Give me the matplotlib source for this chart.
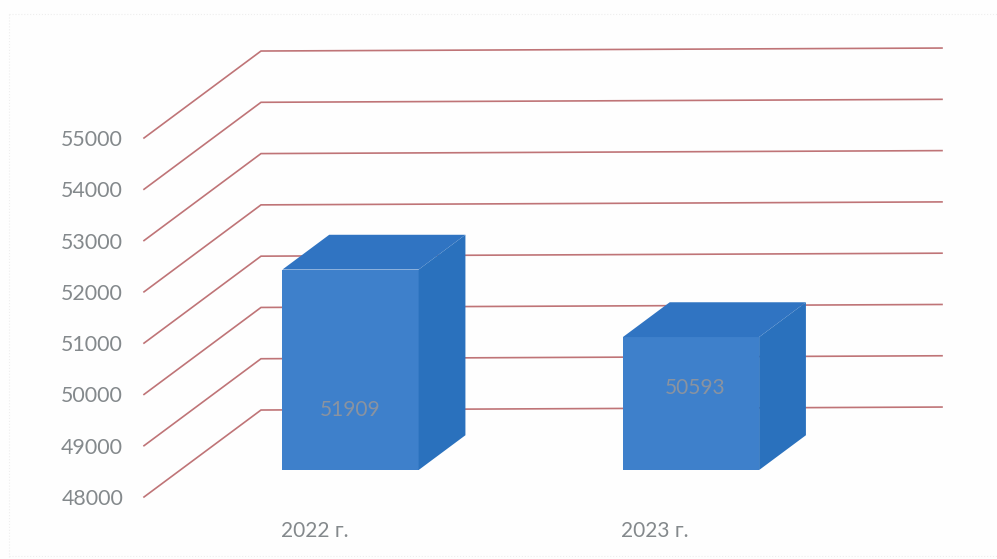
import matplotlib
matplotlib.use("Agg")
import matplotlib.pyplot as plt
from matplotlib.lines import Line2D
from matplotlib.patches import Polygon

plt.rcParams['font.family'] = ['Lato', 'DejaVu Sans']

# data
categories = ['2022 г.', '2023 г.']
values = [51909, 50593]
value_labels = ['51909', '50593']
ticks = [48000, 49000, 50000, 51000, 52000, 53000, 54000, 55000]

# fake 3d: how far the back wall sits from the front plane, in data units
depth_x = 0.3436
depth_y = 1696
tilt = 29  # the scan is slightly rotated
bar_width = 0.4
bar_front = 0.31
bar_back = 0.71
label_x = [0, 0.012]
label_y = [49696, 50125]


def proj(x, v, d):
    return x + depth_x * d, v + depth_y * d


W, H = 997, 559
fig = plt.figure(figsize=(W / 100, H / 100), dpi=100)
fig.patch.set_facecolor('#fefefe')
ax = fig.add_axes([144 / W, 1 - 497 / H, 681 / W, 359 / H])
ax.set_xlim(-0.5, 1.5)
ax.set_ylim(ticks[0], ticks[-1])
ax.patch.set_visible(False)
for s in ax.spines.values():
    s.set_visible(False)

# gridlines: side wall, then back wall
for t in ticks:
    x0, y0 = proj(-0.5, t, 0)
    x1, y1 = proj(-0.5, t, 1)
    x2, y2 = proj(1.5, t, 1)
    ax.plot([x0, x1, x2], [y0, y1, y2 + 2 * tilt], color='#bf7477', lw=1.2,
            clip_on=False, zorder=1, solid_joinstyle='miter')

# bars
for i, v in enumerate(values):
    left = i - bar_width / 2
    right = i + bar_width / 2
    base = ticks[0]
    front = [proj(left, base, bar_front), proj(right, base, bar_front),
             proj(right, v, bar_front), proj(left, v, bar_front)]
    top = [proj(left, v, bar_front), proj(right, v, bar_front),
           proj(right, v, bar_back), proj(left, v, bar_back)]
    side = [proj(right, base, bar_front), proj(right, base, bar_back),
            proj(right, v, bar_back), proj(right, v, bar_front)]
    ax.add_patch(Polygon(front, color='#3e80cb', lw=0, clip_on=False, zorder=3))
    ax.add_patch(Polygon(top, color='#3074c2', lw=0, clip_on=False, zorder=3))
    ax.add_patch(Polygon(side, color='#2a71bd', lw=0, clip_on=False, zorder=3))
    lx, _ = proj(i + label_x[i], v, bar_front)
    ax.text(lx, label_y[i], value_labels[i], color='#8a93a0', fontsize=15,
            ha='center', va='center', zorder=4)

ax.set_yticks(ticks)
ax.set_yticklabels([str(t) for t in ticks])
ax.set_xticks([0, 1])
ax.set_xticklabels(categories)
ax.tick_params(axis='y', length=0, pad=15, labelsize=15.4, labelcolor='#84898c')
ax.tick_params(axis='x', length=0, pad=17, labelsize=15, labelcolor='#84898c')

# faint marks left by the scan along the page edges
for xs, ys in [([9, 9], [14, 559]), ([9, 997], [14, 14]), ([9, 997], [556, 556])]:
    fig.add_artist(Line2D([x / W for x in xs], [1 - y / H for y in ys],
                          color='#eeeeee', lw=0.8, ls=':',
                          transform=fig.transFigure))

fig.savefig('out.png', dpi=100, facecolor=fig.get_facecolor())
